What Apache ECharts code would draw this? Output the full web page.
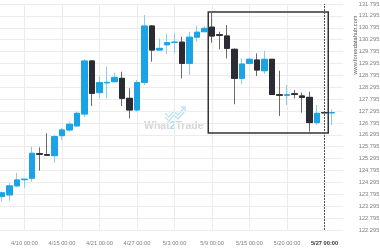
<!DOCTYPE html>
<html>
<head>
<meta charset="utf-8">
<script src="https://cdn.jsdelivr.net/npm/echarts@6/dist/echarts.min.js"></script>
<style>html,body{margin:0;padding:0;background:#fff}#c{width:380px;height:250px}</style>
</head>
<body>
<div id="c"></div>
<script>
const categories = ['4/7','4/8','4/9','4/10','4/11','4/12','4/13','4/14','4/15','4/17','4/18','4/19','4/20','4/21','4/22','4/23','4/24','4/26','4/27','4/28','4/29','4/30','5/2','5/3','5/4','5/6','5/7','5/8','5/9','5/10','5/11','5/13','5/14','5/15','5/16','5/17','5/18','5/19','5/20','5/22','5/23','5/24','5/26','5/27','5/28','5/29'];
const opens  = [123.70,123.77,124.15,124.41,124.47,125.50,125.46,125.42,126.26,126.50,126.67,127.17,129.40,128.07,128.48,128.53,128.67,127.83,127.34,128.50,130.87,129.86,130.08,130.18,130.19,129.30,130.40,130.63,130.82,130.50,130.45,129.89,128.67,129.30,129.44,128.99,129.47,127.98,127.96,128.02,127.93,127.87,126.81,127.23,127.22];
const closes = [123.86,124.15,124.40,124.43,125.52,125.48,125.44,126.22,126.50,126.74,127.20,129.40,128.04,128.49,128.50,128.71,127.83,127.34,128.49,130.87,129.86,129.93,130.17,130.19,129.30,130.40,130.61,130.77,130.45,130.48,129.93,128.67,129.27,129.47,129.02,129.47,127.99,127.96,127.98,128.00,127.87,126.81,127.20,127.22,127.23];
const lows   = [123.49,123.52,124.09,124.07,124.33,124.79,125.41,125.13,126.08,126.43,126.64,127.03,127.51,127.83,127.83,128.49,127.51,126.99,127.27,128.39,129.37,129.86,129.69,129.72,128.67,128.81,130.21,130.61,130.17,129.89,129.51,127.58,128.43,129.27,128.77,128.85,127.97,127.09,127.55,127.83,127.23,126.43,126.71,127.21,126.71];
const highs  = [123.91,124.26,124.70,124.43,125.80,125.77,126.36,126.29,126.58,126.85,127.27,129.47,129.44,128.76,129.16,128.91,128.95,128.25,128.60,131.33,130.91,130.35,130.56,130.56,130.42,130.63,130.87,130.87,131.47,130.63,130.91,129.93,129.51,129.51,129.72,129.83,129.48,128.99,128.39,128.18,128.07,128.11,127.55,127.23,127.37];
const yTicks = {min: 122.295, max: 131.795, step: 0.5};
const labelEvery = 5, labelOffset = 3;
const markedDate = '5/27';
const boxFrom = '5/9', boxTo = '5/27', boxLow = 126.37, boxHigh = 131.46;

const full = categories.map((c, i) => i < opens.length ? [opens[i], closes[i], lows[i], highs[i]] : '-');
const bodies = categories.map((c, i) => i < opens.length ? [opens[i], closes[i], Math.min(opens[i], closes[i]), Math.max(opens[i], closes[i])] : '-');
const showIdx = (i) => i % labelEvery === labelOffset;
const n = categories.length;
const FONT = 'Liberation Sans';

const chart = echarts.init(document.getElementById('c'), null, {renderer: 'canvas'});
chart.setOption({
  animation: false,
  backgroundColor: '#fff',
  grid: {left: -1.75, right: 36.75, top: 4, bottom: 20, containLabel: false, outerBoundsMode: 'none'},
  xAxis: [{
    type: 'category', data: categories, boundaryGap: true,
    axisLine: {show: false}, axisTick: {show: false},
    axisLabel: {
      interval: (i) => showIdx(i), margin: 10, fontSize: 5.7, color: '#808080', fontFamily: FONT,
      hideOverlap: false,
      formatter: (v) => v === markedDate ? '{b|' + v + ' 00:00}' : v + ' 00:00',
      rich: {b: {fontSize: 5.7, fontWeight: 'bold', color: '#333', fontFamily: FONT}}
    },
    splitLine: {show: true, interval: (i) => showIdx(i), alignWithLabel: true, lineStyle: {color: '#ececec', width: 1}}
  }, {
    type: 'value', min: -0.5, max: n - 0.5, show: false
  }],
  yAxis: {
    type: 'value', position: 'right', min: yTicks.min, max: yTicks.max, interval: yTicks.step, scale: true,
    axisLine: {show: false}, axisTick: {show: false},
    axisLabel: {margin: 15.5, fontSize: 5.7, color: '#808080', fontFamily: FONT, formatter: (v) => v.toFixed(3)},
    splitLine: {show: true, lineStyle: {color: '#ececec', width: 1}}
  },
  series: [
    {
      type: 'candlestick', data: full, barWidth: 6, silent: true,
      itemStyle: {color: 'transparent', color0: 'transparent', borderColor: '#86cdf0', borderColor0: '#6a6a6a', borderWidth: 1},
      markLine: {
        silent: true, symbol: 'none', label: {show: false},
        lineStyle: {color: '#555', type: [2, 1], width: 1},
        data: [{xAxis: markedDate}]
      }
    },
    {
      type: 'candlestick', data: bodies, barWidth: 6, silent: true,
      itemStyle: {color: '#1ca3e5', color0: '#2a2b33', borderColor: '#1ca3e5', borderColor0: '#2a2b33', borderWidth: 1}
    },
    {
      type: 'line', xAxisIndex: 1, data: [], silent: true,
      markArea: {
        silent: true,
        itemStyle: {color: 'rgba(0,0,0,0)', borderColor: '#333', borderWidth: 1.5},
        data: [[{xAxis: categories.indexOf(boxFrom) - 0.5, yAxis: boxHigh}, {xAxis: categories.indexOf(boxTo) + 0.5, yAxis: boxLow}]]
      }
    }
  ],
  graphic: [
    {type: 'text', left: 144, top: 121, silent: true, z: 0,
     style: {text: '{a|What}{b|2}{a|Trade}', rich: {a: {fontSize: 10.5, fontWeight: 'bold', fill: '#d6d6d6', fontFamily: FONT}, b: {fontSize: 10.5, fontWeight: 'bold', fill: '#a9daf2', fontFamily: FONT}}}},
    {type: 'polyline', silent: true, z: 0, shape: {points: [[165,117],[169,121],[174,115],[178,119],[185,111]]}, style: {stroke: '#bfe4f6', lineWidth: 1.5, fill: null}},
    {type: 'polyline', silent: true, z: 0, shape: {points: [[165,113],[169,117],[174,111],[178,115],[184,108]]}, style: {stroke: '#bfe4f6', lineWidth: 1.5, fill: null}},
    {type: 'polyline', silent: true, z: 0, shape: {points: [[181,107],[185,107],[185,111]]}, style: {stroke: '#bfe4f6', lineWidth: 1.5, fill: null}},
    {type: 'text', x: 355, y: 45, rotation: Math.PI / 2, silent: true,
     style: {text: 'www.forexdatahub.com', fontSize: 5.7, fill: '#555', fontFamily: FONT, align: 'center', verticalAlign: 'middle'}}
  ]
});
</script>
</body>
</html>
